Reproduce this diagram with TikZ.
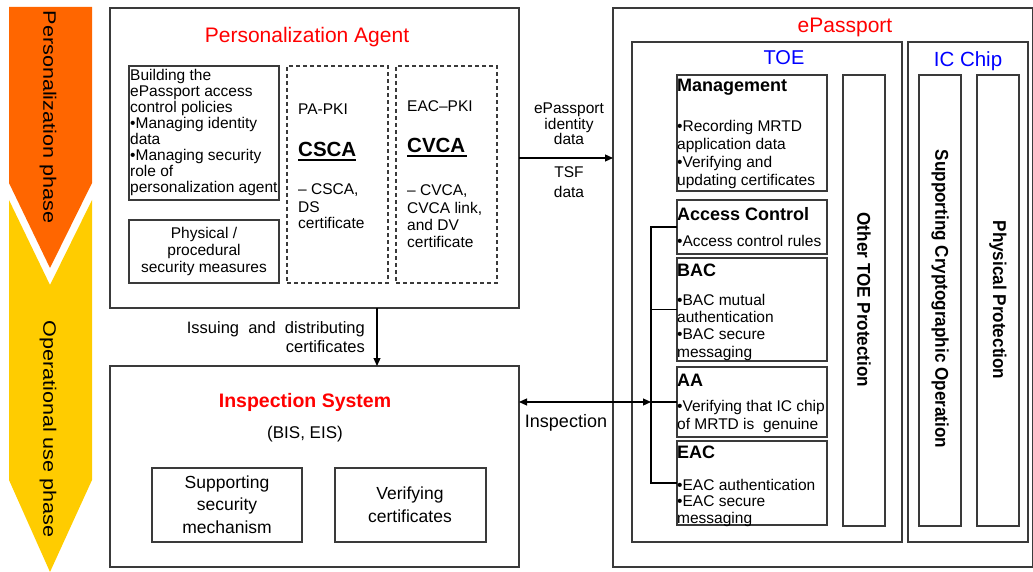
\documentclass[tikz,border=0pt]{standalone}
\usepackage{fontspec}
\setmainfont{Liberation Sans}
\usetikzlibrary{arrows.meta}
\definecolor{lc}{HTML}{3A3A3A}
\definecolor{phaseA}{HTML}{FF6600}
\definecolor{phaseB}{HTML}{FFCC00}
\newcommand\bx[6]{\node[#2, minimum width=#5pt-#3pt, minimum height=#6pt-#4pt] (#1) at (#3,#4) {};}
\newcommand\txtlines[6]{\foreach \myl [count=\myi] in {#6} {\node[#2] (#1-\myi) at (#3,{#4+(\myi-1)*#5}) {\myl};}}
\tikzset{
 obox/.style={draw=lc, line width=1.8pt, inner sep=0pt, outer sep=0pt, anchor=north west},
 ibox/.style={draw=lc, line width=1.3pt, inner sep=0pt, outer sep=0pt, anchor=north west},
 dbox/.style={draw=lc, line width=1.2pt, dash pattern=on 4pt off 3pt, inner sep=0pt, outer sep=0pt, anchor=north west},
 bodyL/.style={font=\fontsize{15.5}{17}\selectfont, inner sep=0pt, anchor=base west},
 bodyC/.style={font=\fontsize{15.5}{17}\selectfont, inner sep=0pt, anchor=base},
 bigC/.style={font=\fontsize{17.5}{20}\selectfont, inner sep=0pt, anchor=base},
 head/.style={font=\fontsize{18}{20}\selectfont\bfseries, inner sep=0pt, anchor=base west},
 ttl/.style={font=\fontsize{21}{24}\selectfont, inner sep=0pt, anchor=base},
 vtext/.style={font=\fontsize{18.5}{20}\selectfont\bfseries, rotate=-90, inner sep=0pt},
 phtext/.style={font=\fontsize{18}{20}\selectfont, rotate=-90, inner sep=0pt},
 pki/.style={font=\fontsize{20.5}{22}\selectfont\bfseries, inner sep=0pt, anchor=base west},
 uline/.style={draw=black, line width=2pt},
 wire/.style={draw=black, line width=1.2pt},
 arr/.style={wire, -{Triangle[length=8pt,width=7pt]}},
 darr/.style={wire, {Triangle[length=8pt,width=7pt]}-{Triangle[length=8pt,width=7pt]}},
}
\begin{document}
\begin{tikzpicture}[x=1pt,y=-1pt]
\useasboundingbox (0,0) rectangle (1033,572);
% phase arrows
\fill[phaseA] (9,7) -- (92,7) -- (92,183) -- (50,268) -- (9,183) -- cycle;
\fill[phaseB] (9,200) -- (50,285) -- (92,200) -- (92,480) -- (50,572) -- (9,480) -- cycle;
\node[phtext] (ph1) at (48,117) {\scalebox{1.2}[1]{Personalization phase}};
\node[phtext] (ph2) at (48,429) {\scalebox{1.2}[1]{Operational use phase}};
% main boxes
\bx{pa}{obox}{110}{8}{519}{308}
\bx{is}{obox}{110}{366}{519}{567}
\bx{ep}{obox}{613}{8}{1033}{567}
\bx{toe}{obox}{632}{42}{902}{542}
\bx{ic}{obox}{908}{42}{1028}{542}
% personalization agent
\bx{pol}{ibox}{129}{66}{279}{200}
\bx{phys}{ibox}{129}{220}{279}{283}
\bx{papki}{dbox}{287}{66}{388}{283}
\bx{eacpki}{dbox}{396}{66}{497}{283}
\node[ttl, text=red] (patitle) at (307,43) {Personalization Agent};
\txtlines{polt}{bodyL}{130}{81}{16}{Building the, ePassport access, control policies, •Managing identity, data, •Managing security, role of, personalization agent}
\txtlines{physt}{bodyC}{204}{238}{17}{Physical /, procedural, security measures}
\node[bodyL] (papkit) at (298,115) {PA-PKI};
\node[pki] (csca) at (298,157) {CSCA};
\draw[uline] (298,160.5) -- (356,160.5);
\txtlines{cscat}{bodyL}{298}{195}{17}{{– CSCA,}, DS, certificate}
\node[bodyL] (eacpkit) at (407,112) {EAC–PKI};
\node[pki] (cvca) at (407,153) {CVCA};
\draw[uline] (407,156.5) -- (467,156.5);
\txtlines{cvcat}{bodyL}{407}{196}{17.3}{{– CVCA,}, {CVCA link,}, and DV, certificate}
% inspection system
\bx{ssm}{ibox}{152}{468}{302}{542}
\bx{vc}{ibox}{335}{468}{486}{542}
\node[ttl, font=\fontsize{19.5}{22}\selectfont\bfseries, text=red] (istitle) at (305,407) {Inspection System};
\node[ttl, font=\fontsize{17}{20}\selectfont] (bis) at (305,438) {(BIS, EIS)};
\txtlines{ssmt}{bigC}{227}{488}{22.5}{Supporting, security, mechanism}
\txtlines{vct}{bigC}{410}{499}{23}{Verifying, certificates}
% ePassport
\node[ttl, text=red] (eptitle) at (845,33) {ePassport};
\node[ttl, font=\fontsize{20}{22}\selectfont, text=blue] (toetitle) at (784,65) {TOE};
\node[ttl, font=\fontsize{20.5}{22}\selectfont, text=blue] (ictitle) at (968,67) {IC Chip};
\bx{mgmt}{ibox}{677}{75}{827}{191}
\bx{ac}{ibox}{677}{200}{827}{254}
\bx{bac}{ibox}{677}{258}{827}{361}
\bx{aa}{ibox}{677}{367}{827}{437}
\bx{eac}{ibox}{677}{441}{827}{525}
\bx{otp}{ibox}{843}{75}{885}{526}
\bx{sco}{ibox}{919}{75}{961}{526}
\bx{pp}{ibox}{977}{75}{1019}{526}
\node[head] (mgmth) at (677,92) {Management};
\txtlines{mgmtt}{bodyL}{677}{132}{17.7}{•Recording MRTD, application data, •Verifying and, updating certificates}
\node[head] (ach) at (677,221) {Access Control};
\node[bodyL] (act) at (677,246) {•Access control rules};
\node[head] (bach) at (677,276) {BAC};
\txtlines{bact}{bodyL}{677}{305}{17.4}{•BAC mutual, authentication, •BAC secure, messaging}
\node[head] (aah) at (677,386) {AA};
\txtlines{aat}{bodyL}{677}{411}{18}{•Verifying that IC chip, of MRTD is~ genuine}
\node[head] (each) at (677,458) {EAC};
\txtlines{eact}{bodyL}{677}{490}{16.5}{•EAC authentication, •EAC secure, messaging}
\node[vtext] (otpt) at (864,300) {\scalebox{0.925}[1]{Other TOE Protection}};
\node[vtext] (scot) at (940,299) {\scalebox{0.925}[1]{Supporting Cryptographic Operation}};
\node[vtext] (ppt) at (998,300) {\scalebox{0.925}[1]{Physical Protection}};
% connectors
\draw[arr] ([xshift=267pt]pa.south west) -- ([xshift=267pt]is.north west);
\txtlines{issue}{font=\fontsize{16.5}{19}\selectfont, inner sep=0pt, anchor=base east}{365}{333}{19.5}{Issuing\ \ and\ \ distributing, certificates}
\draw[arr] ([yshift=-150pt]pa.north east) -- ([yshift=-150pt]ep.north west);
\txtlines{epid}{font=\fontsize{15.5}{17}\selectfont, inner sep=0pt, anchor=base}{569}{114}{15.5}{ePassport, identity, data}
\txtlines{tsf}{font=\fontsize{15.5}{17}\selectfont, inner sep=0pt, anchor=base}{569}{178}{20}{TSF, data}
\coordinate (bt) at (651,227);
\coordinate (bi) at (651,402);
\coordinate (bb) at (651,483);
\draw[darr] ([yshift=-36pt]is.north east) -- (bi);
\node[font=\fontsize{18}{20}\selectfont, inner sep=0pt, anchor=base] (insp) at (566,427) {Inspection};
\draw[wire] (ac.west) -- (bt) -- (bb) -- (eac.west);
\draw[wire] (bac.west) -- (bac.west -| bt);
\draw[wire] (bi) -- (aa.west);
\end{tikzpicture}
\end{document}
